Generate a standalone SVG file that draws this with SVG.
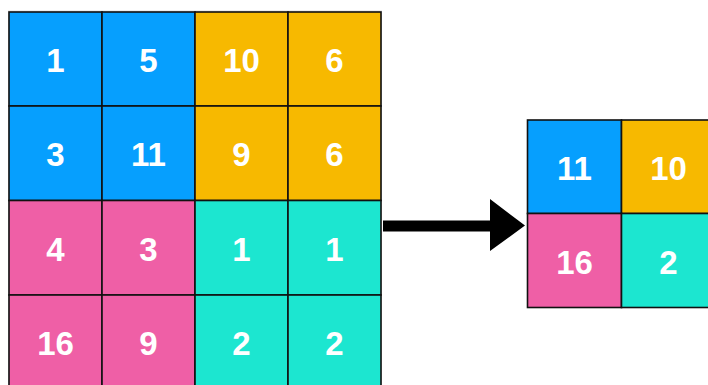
<svg xmlns="http://www.w3.org/2000/svg" width="708" height="385" viewBox="0 0 708 385">
<defs>
<style>
.c{stroke:#111;stroke-width:1.6}
.b{fill:#069FFE}.y{fill:#F7B900}.p{fill:#EF5FA6}.t{fill:#1CE6D0}
text{font-family:"Liberation Sans",Arial,sans-serif;font-weight:bold;font-size:33px;fill:#fff;text-anchor:middle}
</style>
</defs>
<rect width="708" height="385" fill="#fff"/>
<g id="input-grid">
<rect x="8" y="10.5" width="374" height="380" fill="#bbb" opacity="0.5"/>
<g id="cell-0-0"><rect class="c b" x="9" y="12" width="93" height="94"/><text x="55.5" y="72">1</text></g>
<g id="cell-0-1"><rect class="c b" x="102" y="12" width="93" height="94"/><text x="148.5" y="72">5</text></g>
<g id="cell-0-2"><rect class="c y" x="195" y="12" width="93" height="94"/><text x="241.5" y="72">10</text></g>
<g id="cell-0-3"><rect class="c y" x="288" y="12" width="93" height="94"/><text x="334.5" y="72">6</text></g>
<g id="cell-1-0"><rect class="c b" x="9" y="106" width="93" height="94.5"/><text x="55.5" y="166">3</text></g>
<g id="cell-1-1"><rect class="c b" x="102" y="106" width="93" height="94.5"/><text x="148.5" y="166">11</text></g>
<g id="cell-1-2"><rect class="c y" x="195" y="106" width="93" height="94.5"/><text x="241.5" y="166">9</text></g>
<g id="cell-1-3"><rect class="c y" x="288" y="106" width="93" height="94.5"/><text x="334.5" y="166">6</text></g>
<g id="cell-2-0"><rect class="c p" x="9" y="200.5" width="93" height="94.5"/><text x="55.5" y="260.5">4</text></g>
<g id="cell-2-1"><rect class="c p" x="102" y="200.5" width="93" height="94.5"/><text x="148.5" y="260.5">3</text></g>
<g id="cell-2-2"><rect class="c t" x="195" y="200.5" width="93" height="94.5"/><text x="241.5" y="260.5">1</text></g>
<g id="cell-2-3"><rect class="c t" x="288" y="200.5" width="93" height="94.5"/><text x="334.5" y="260.5">1</text></g>
<g id="cell-3-0"><rect class="c p" x="9" y="295" width="93" height="94"/><text x="55.5" y="355">16</text></g>
<g id="cell-3-1"><rect class="c p" x="102" y="295" width="93" height="94"/><text x="148.5" y="355">9</text></g>
<g id="cell-3-2"><rect class="c t" x="195" y="295" width="93" height="94"/><text x="241.5" y="355">2</text></g>
<g id="cell-3-3"><rect class="c t" x="288" y="295" width="93" height="94"/><text x="334.5" y="355">2</text></g>
</g>
<g id="connectors">
<path d="M383 220.5H490V199L525 225.5L490 251V231.5H383Z" fill="#000"/>
</g>
<g id="output-grid">
<g id="out-0-0"><rect class="c b" x="527.5" y="120" width="94" height="93.5"/><text x="574.5" y="180">11</text></g>
<g id="out-0-1"><rect class="c y" x="621.5" y="120" width="94" height="93.5"/><text x="668.5" y="180">10</text></g>
<g id="out-1-0"><rect class="c p" x="527.5" y="213.5" width="94" height="94"/><text x="574.5" y="273.5">16</text></g>
<g id="out-1-1"><rect class="c t" x="621.5" y="213.5" width="94" height="94"/><text x="668.5" y="273.5">2</text></g>
</g>
</svg>
